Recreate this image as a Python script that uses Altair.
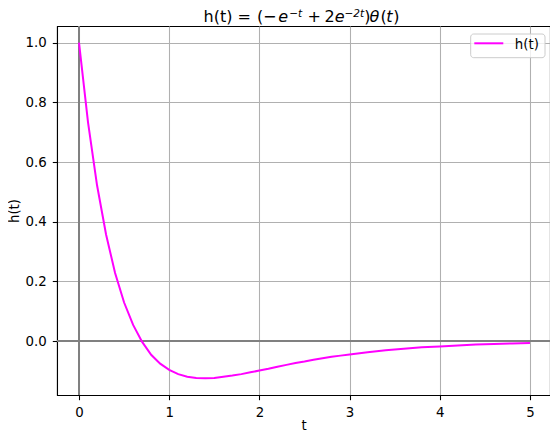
import pandas as pd
import altair as alt

# values
t_vals = [0.0, 0.1, 0.2, 0.3, 0.4, 0.5, 0.6, 0.7, 0.8, 0.9,
          1.0, 1.1, 1.2, 1.3, 1.4, 1.5, 1.6, 1.7, 1.8, 1.9,
          2.0, 2.1, 2.2, 2.3, 2.4, 2.5, 2.6, 2.7, 2.8, 2.9,
          3.0, 3.2, 3.4, 3.6, 3.8, 4.0, 4.2, 4.4, 4.6, 4.8, 5.0]
h_vals = [1.000, 0.733, 0.522, 0.357, 0.228, 0.129, 0.054, -0.003, -0.046, -0.076,
          -0.097, -0.111, -0.120, -0.124, -0.125, -0.124, -0.120, -0.116, -0.111, -0.105,
          -0.099, -0.093, -0.086, -0.080, -0.074, -0.069, -0.063, -0.058, -0.053, -0.049,
          -0.045, -0.038, -0.031, -0.026, -0.021, -0.018, -0.015, -0.012, -0.010, -0.008, -0.007]
x_ticks = [0, 1, 2, 3, 4, 5]
y_ticks = [0.0, 0.2, 0.4, 0.6, 0.8, 1.0]

df = pd.DataFrame({"t": t_vals, "h": h_vals})
FONT = "DejaVu Sans"
MAGENTA = "#ff00ff"

xs = alt.Scale(domain=[-0.244, 5.222], nice=False, zero=False)
ys = alt.Scale(domain=[-0.181, 1.056], nice=False, zero=False)

x_enc = alt.X("t:Q", scale=xs, title="t",
              axis=alt.Axis(values=x_ticks, format="d", grid=True,
                            titleBaseline="alphabetic", titleY=34))
y_enc = alt.Y("h:Q", scale=ys, title="h(t)",
              axis=alt.Axis(values=y_ticks, format=".1f", grid=True,
                            titleBaseline="alphabetic", titleX=-38.5, titleY=184.5))

base = alt.Chart(df)

# invisible layer carrying the axes + grid
grid = base.mark_line(opacity=0).encode(x=x_enc, y=y_enc)

zero_h = alt.Chart(pd.DataFrame({"y": [0]})).mark_rule(
    color="gray", strokeWidth=2).encode(y=alt.Y("y:Q", scale=ys))
zero_v = alt.Chart(pd.DataFrame({"x": [0]})).mark_rule(
    color="gray", strokeWidth=2).encode(x=alt.X("x:Q", scale=xs))

curve = base.mark_line(color=MAGENTA, strokeWidth=2).encode(
    x=alt.X("t:Q", scale=xs), y=alt.Y("h:Q", scale=ys))

# legend box, drawn by hand like matplotlib's
leg = alt.Chart(pd.DataFrame({"k": [0]}))
leg_box = leg.mark_rect(fill="white", fillOpacity=0.8, stroke="#cccccc",
                        strokeWidth=1, cornerRadius=3).encode(
    x=alt.value(413.7), x2=alt.value(488), y=alt.value(8), y2=alt.value(31.7))
leg_line = leg.mark_rule(color=MAGENTA, strokeWidth=2).encode(
    x=alt.value(417.3), x2=alt.value(446.3), y=alt.value(17.3))
leg_text = leg.mark_text(text="h(t)", font=FONT, fontSize=13.33, align="left",
                         baseline="alphabetic", color="black").encode(
    x=alt.value(457.8), y=alt.value(22.5))


# title with math-like pieces (superscripts, italics)
def tpiece(txt, x, sup=False, italic=False):
    return leg.mark_text(text=txt, font=FONT, fontSize=10.5 if sup else 16,
                         fontStyle="italic" if italic else "normal",
                         align="left", baseline="alphabetic", color="black").encode(
        x=alt.value(x), y=alt.value(-9.3 if sup else -4))


title_parts = [
    tpiece("h(t) =", 146.5),
    tpiece("(", 200),
    tpiece("−", 206),
    tpiece("e", 221.2, italic=True),
    tpiece("−t", 232.2, sup=True, italic=True),
    tpiece("+", 250.5),
    tpiece("2", 267.5),
    tpiece("e", 277.8, italic=True),
    tpiece("−2t", 287.5, sup=True, italic=True),
    tpiece(")", 307.2),
    tpiece("θ", 312.5, italic=True),
    tpiece("(", 323.6),
    tpiece("t", 329.2, italic=True),
    tpiece(")", 336.2),
]

chart = alt.layer(grid, zero_h, zero_v, curve, leg_box, leg_line, leg_text,
                  *title_parts).properties(
    width=493, height=369,
    padding={"left": 49, "top": 18, "right": 0, "bottom": 37},
    autosize=alt.AutoSizeParams(type="none"),
).configure_view(
    stroke="black", strokeWidth=1.07
).configure_axis(
    labelFont=FONT, labelFontSize=13.33, labelColor="black",
    titleFont=FONT, titleFontSize=13.33, titleColor="black", titleFontWeight="normal",
    domainColor="black", domainWidth=1.07, tickColor="black", tickWidth=1.07,
    tickSize=4.7, gridColor="#b0b0b0", gridWidth=1.07,
).configure_axisX(labelPadding=5.5
).configure_axisY(labelPadding=6)

chart.save("out.html", embed_options={"renderer": "svg", "actions": False})
